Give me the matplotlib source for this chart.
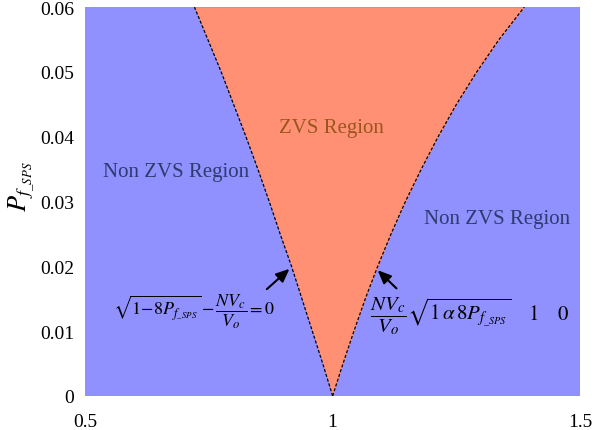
import numpy as np
import matplotlib

matplotlib.use("Agg")
import matplotlib.pyplot as plt

# boundary of the ZVS region, sampled along P_f_SPS
p_f = [0.0, 0.005, 0.01, 0.015, 0.02, 0.025, 0.03, 0.035, 0.04, 0.045, 0.05, 0.055, 0.06]
x_left = [1.0, 0.980, 0.959, 0.938, 0.917, 0.894, 0.872, 0.849, 0.825, 0.800, 0.775, 0.748, 0.721]
x_right = [1.0, 1.021, 1.043, 1.066, 1.091, 1.118, 1.147, 1.179, 1.213, 1.250, 1.291, 1.336, 1.387]

xticks = [0.5, 1.0, 1.5]
xtick_labels = ["0.5", "1", "1.5"]
yticks = [0, 0.01, 0.02, 0.03, 0.04, 0.05, 0.06]
ytick_labels = ["0", "0.01", "0.02", "0.03", "0.04", "0.05", "0.06"]

plt.rcParams["font.family"] = "Liberation Serif"
plt.rcParams["mathtext.fontset"] = "stix"

blue = "#9090FF"
orange = "#FF9074"

fig = plt.figure(figsize=(6.12, 4.31), dpi=100)
ax = fig.add_axes([0.139, 0.079, 0.809, 0.902])
ax.set_facecolor(blue)
ax.fill_betweenx(p_f, x_left, x_right, color=orange, lw=0)
ax.plot(x_left, p_f, color="black", ls=(0, (2.5, 1.5)), lw=0.9)
ax.plot(x_right, p_f, color="black", ls=(0, (2.5, 1.5)), lw=0.9)

ax.set_xlim(0.5, 1.5)
ax.set_ylim(0, 0.06)
ax.set_xticks(xticks, xtick_labels)
ax.set_yticks(yticks, ytick_labels)
ax.tick_params(length=0, labelsize=14)
ax.tick_params(axis="x", pad=12)
ax.tick_params(axis="y", pad=8)
for s in ax.spines.values():
    s.set_visible(False)
ax.set_ylabel(r"$P_{f_{\_SPS}}$", fontsize=19)
ax.yaxis.set_label_coords(-0.097, 0.54)

ax.text(0.536, 0.0346, "Non ZVS Region", color="#2D3C6E", fontsize=15, va="center")
ax.text(1.185, 0.0274, "Non ZVS Region", color="#2D3C6E", fontsize=15, va="center")
ax.text(0.997, 0.0414, "ZVS Region", color="#9A561E", fontsize=15, ha="center", va="center")

ax.text(0.557, 0.0131, r"$\sqrt{1{-}8P_{f_{\_SPS}}}\,{-}\,\dfrac{NV_c}{V_o}{=}0$",
        fontsize=13, ha="left", va="center")
ax.text(1.076, 0.0125, r"$\dfrac{NV_c}{V_o}\sqrt{1\,\alpha\, 8P_{f_{\_SPS}}}\quad\; 1\quad\; 0$",
        fontsize=15, ha="left", va="center")

ax.annotate("", xy=(0.917, 0.0199), xytext=(0.863, 0.0162),
            arrowprops=dict(arrowstyle="-|>,head_length=0.8,head_width=0.35",
                            color="black", lw=1.5))
ax.annotate("", xy=(1.087, 0.0197), xytext=(1.133, 0.0163),
            arrowprops=dict(arrowstyle="-|>,head_length=0.8,head_width=0.35",
                            color="black", lw=1.5))

fig.savefig("out.png", dpi=100)
